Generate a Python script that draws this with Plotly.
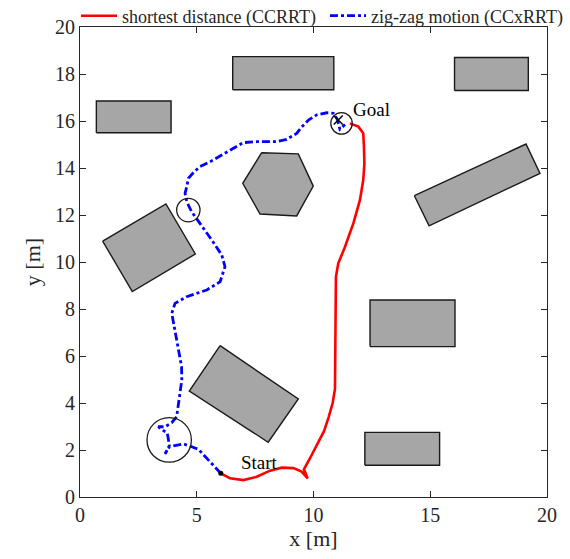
import plotly.graph_objects as go

# ---------------- data ----------------
red_x = [6.03, 6.42, 7.0, 7.57, 8.14, 8.64, 9.14, 9.49, 9.75, 9.59, 9.85, 10.2, 10.45, 10.65, 10.82,
         10.92, 10.94, 10.96, 10.96, 11.06, 11.35, 11.71, 11.99, 12.13, 12.18, 12.16, 12.13, 11.92, 11.56]
red_y = [1.01, 0.80, 0.72, 0.86, 1.12, 1.25, 1.23, 1.08, 0.79, 1.18, 1.65, 2.3, 2.8, 3.4, 4.0,
         4.6, 6.11, 7.82, 9.37, 9.94, 10.65, 11.65, 12.64, 13.49, 14.2, 14.91, 15.48, 15.76, 15.9]

blue_x = [6.03, 5.71, 5.35, 5.07, 4.78, 4.43, 4.0, 3.83, 3.64, 3.83, 3.74, 3.35, 3.64, 3.93, 4.14,
          4.25, 4.36, 4.35, 4.14, 3.93, 4.07, 4.57, 5.43, 6.0, 6.21, 6.07, 5.64, 5.14, 4.78, 4.57,
          4.50, 4.57, 4.64, 4.9, 5.14, 5.71, 6.42, 6.99, 7.57, 8.42, 8.85, 9.28, 9.5, 9.8, 10.14,
          10.57, 10.85, 11.02, 11.13, 11.28, 11.35]
blue_y = [1.01, 1.36, 1.74, 2.03, 2.14, 2.26, 2.18, 2.14, 1.83, 2.2, 2.71, 2.99, 2.99, 3.16, 3.42,
          4.27, 4.98, 5.55, 6.68, 7.82, 8.24, 8.52, 8.81, 9.16, 9.80, 10.30, 10.94, 11.65, 12.14, 12.57,
          12.92, 13.2, 13.56, 13.85, 14.06, 14.34, 14.77, 15.08, 15.12, 15.12, 15.22, 15.47, 15.75, 16.05, 16.26,
          16.35, 16.33, 16.07, 15.65, 15.76, 15.85]

# obstacles (polygon vertices)
obs_x = [
    [0.7, 3.9, 3.9, 0.7],
    [6.54, 10.87, 10.87, 6.54],
    [16.04, 19.2, 19.2, 16.04],
    [12.2, 15.4, 15.4, 12.2],
    [12.42, 16.06, 16.06, 12.42],
    [14.32, 19.10, 19.70, 14.95],
    [7.78, 9.35, 9.99, 9.28, 7.71, 6.97],
    [6.0, 9.35, 8.06, 4.68],
    [0.97, 3.68, 4.94, 2.24],
]
obs_y = [
    [15.5, 15.5, 16.85, 16.85],
    [17.33, 17.33, 18.74, 18.74],
    [17.3, 17.3, 18.7, 18.7],
    [1.35, 1.35, 2.75, 2.75],
    [6.40, 6.40, 8.38, 8.38],
    [12.82, 15.02, 13.77, 11.54],
    [14.65, 14.6, 13.23, 11.96, 12.04, 13.35],
    [6.44, 4.17, 2.33, 4.51],
    [10.89, 12.47, 10.34, 8.74],
]

circle_cx = [3.82, 4.64, 11.2]
circle_cy = [2.43, 12.21, 15.9]
circle_r = [0.95, 0.5, 0.46]

start_xy = (6.03, 1.01)
goal_xy = (11.06, 16.04)
label_text = ["Start", "Goal"]
label_x = [7.69, 12.5]
label_y = [1.45, 16.47]

x_ticks = [0, 5, 10, 15, 20]
y_ticks = [0, 2, 4, 6, 8, 10, 12, 14, 16, 18, 20]

SERIF = "Liberation Serif, Times New Roman, serif"
AX = "#262626"

fig = go.Figure()

for px, py in zip(obs_x, obs_y):
    fig.add_trace(go.Scatter(x=px + [px[0]], y=py + [py[0]], mode="lines", fill="toself",
                             fillcolor="#a6a6a6", line=dict(color="#1a1a1a", width=1.4),
                             showlegend=False, hoverinfo="skip"))

fig.add_trace(go.Scatter(x=red_x, y=red_y, mode="lines", name="shortest distance (CCRRT)",
                         line=dict(color="#ff0000", width=2.6), legend="legend"))
fig.add_trace(go.Scatter(x=blue_x, y=blue_y, mode="lines", name="zig-zag motion (CCxRRT)",
                         line=dict(color="#0000ff", width=2.8, dash="8px,3px,3px,3px"),
                         legend="legend2"))

fig.add_trace(go.Scatter(x=[start_xy[0]], y=[start_xy[1]], mode="markers",
                         marker=dict(color="black", size=5), showlegend=False, hoverinfo="skip"))
fig.add_trace(go.Scatter(x=[goal_xy[0]], y=[goal_xy[1]], mode="markers",
                         marker=dict(symbol="x-thin", size=9, line=dict(color="black", width=1.5)),
                         showlegend=False, hoverinfo="skip"))

for cx, cy, r in zip(circle_cx, circle_cy, circle_r):
    fig.add_shape(type="circle", xref="x", yref="y", x0=cx - r, x1=cx + r, y0=cy - r, y1=cy + r,
                  line=dict(color="#1a1a1a", width=1.3), layer="above")

for t, tx, ty in zip(label_text, label_x, label_y):
    fig.add_annotation(x=tx, y=ty, text=t, showarrow=False, xref="x", yref="y",
                       font=dict(family=SERIF, size=19, color="black"))

axis_common = dict(showgrid=False, zeroline=False, showline=True, linecolor=AX, linewidth=1.2,
                   mirror="ticks", ticks="inside", ticklen=6, tickcolor=AX, tickwidth=1.2,
                   automargin=False,
                   tickfont=dict(family=SERIF, size=20, color=AX))

legend_common = dict(orientation="h", xref="container", yref="container",
                     xanchor="left", y=1 - 16 / 559, yanchor="middle",
                     font=dict(family=SERIF, size=18, color=AX), bgcolor="rgba(0,0,0,0)",
                     borderwidth=0, tracegroupgap=0, itemwidth=36)

fig.update_layout(
    width=570, height=559,
    margin=dict(l=80, r=23, t=27, b=62, autoexpand=False),
    paper_bgcolor="white", plot_bgcolor="white",
    xaxis=dict(range=[0, 20], tickvals=x_ticks,
               title=dict(text="x [m]", font=dict(family=SERIF, size=22, color=AX), standoff=4),
               **axis_common),
    yaxis=dict(range=[0, 20], tickvals=y_ticks,
               title=dict(text="y [m]", font=dict(family=SERIF, size=22, color=AX), standoff=8),
               **axis_common),
    legend=dict(x=76 / 570, **legend_common),
    legend2=dict(x=325 / 570, **legend_common),
    showlegend=True,
)

fig.write_html("out.html", config={"displayModeBar": False},
               post_script="document.body.style.margin='0px';")
